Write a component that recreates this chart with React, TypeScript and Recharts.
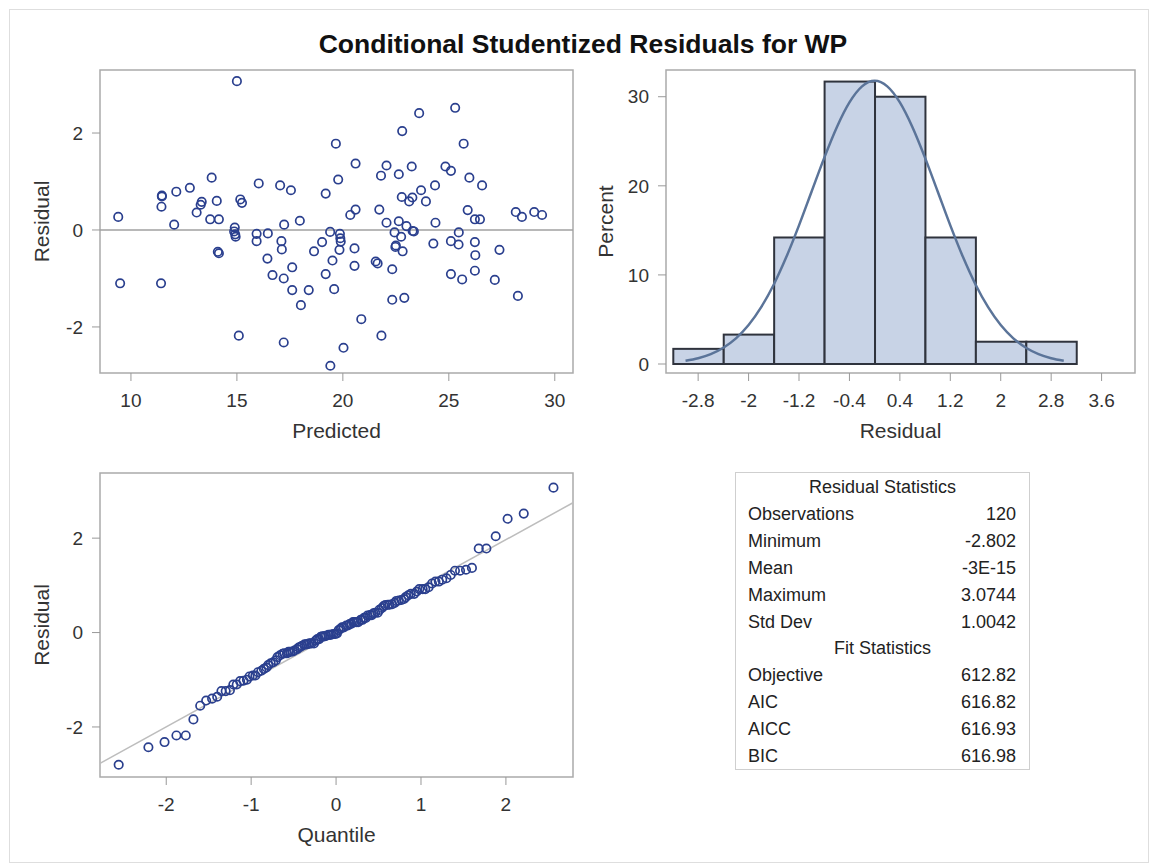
import React from "react";
import {
  ScatterChart,
  Scatter,
  ComposedChart,
  Bar,
  Line,
  XAxis,
  YAxis,
  ReferenceLine,
  ReferenceArea,
  Label,
} from "recharts";

const FONT = '"Liberation Sans", Arial, sans-serif';
const FRAME = "#ababab";
const MARKER = "#2a3f8e";

// residual vs predicted (one entry per observation)
const predicted = [
  15.0, 25.3, 23.6, 22.8, 19.67, 25.7, 20.6, 22.06, 23.25, 24.84,
  25.1, 13.81, 21.8, 22.64, 19.78, 25.97, 26.57, 16.03, 17.04, 17.55,
  12.78, 12.14, 11.46, 11.46, 19.19, 24.35, 23.69, 22.78, 23.28, 23.13,
  23.92, 13.34, 13.29, 14.05, 15.16, 15.24, 11.44, 13.1, 13.74, 14.15,
  12.04, 9.4, 17.23, 17.97, 20.6, 20.35, 21.72, 22.06, 22.64, 23.0,
  24.37, 25.89, 26.23, 26.47, 28.16, 28.45, 29.03, 29.4, 14.9, 14.87,
  14.94, 15.93, 16.46, 15.93, 17.1, 17.12, 19.4, 19.86, 19.9, 19.02,
  18.64, 19.84, 20.55, 19.51, 22.44, 22.75, 23.29, 23.35, 22.5, 22.82,
  24.27, 25.1, 25.47, 25.46, 26.23, 26.25, 27.39, 14.1, 14.15, 16.44,
  17.61, 16.68, 17.21, 17.61, 18.39, 18.02, 19.19, 19.59, 20.55, 21.55,
  21.64, 22.33, 22.33, 22.9, 25.1, 25.63, 26.23, 27.17, 28.26, 9.49,
  11.42, 20.87, 15.09, 17.21, 21.82, 20.03, 19.41, 14.92, 19.88, 22.48,
];

const residual = [
  3.07, 2.52, 2.41, 2.04, 1.78, 1.78, 1.37, 1.33, 1.31, 1.31,
  1.22, 1.08, 1.12, 1.15, 1.04, 1.08, 0.92, 0.96, 0.92, 0.82,
  0.87, 0.79, 0.71, 0.69, 0.75, 0.92, 0.82, 0.68, 0.67, 0.59,
  0.59, 0.58, 0.52, 0.6, 0.63, 0.56, 0.48, 0.36, 0.22, 0.22,
  0.11, 0.27, 0.11, 0.19, 0.42, 0.31, 0.42, 0.15, 0.18, 0.08,
  0.15, 0.41, 0.22, 0.22, 0.37, 0.27, 0.37, 0.31, 0.05, -0.03,
  -0.14, -0.08, -0.07, -0.23, -0.23, -0.4, -0.04, -0.08, -0.24, -0.25,
  -0.44, -0.41, -0.38, -0.63, -0.05, -0.14, -0.02, -0.03, -0.32, -0.44,
  -0.28, -0.23, -0.05, -0.3, -0.25, -0.52, -0.41, -0.45, -0.48, -0.59,
  -0.77, -0.93, -1.0, -1.24, -1.24, -1.55, -0.91, -1.22, -0.74, -0.65,
  -0.69, -0.81, -1.44, -1.4, -0.91, -1.02, -0.84, -1.03, -1.36, -1.1,
  -1.1, -1.84, -2.18, -2.32, -2.18, -2.43, -2.8, -0.09, -0.17, -0.35,
];

// normal quantiles
const quantiles = [
  -2.56, -2.21, -2.02, -1.88, -1.77, -1.68, -1.6, -1.53, -1.46, -1.4,
  -1.35, -1.3, -1.25, -1.21, -1.17, -1.13, -1.09, -1.05, -1.02, -0.98,
  -0.95, -0.92, -0.88, -0.85, -0.82, -0.8, -0.77, -0.74, -0.71, -0.69,
  -0.66, -0.63, -0.61, -0.58, -0.56, -0.54, -0.51, -0.49, -0.46, -0.44,
  -0.42, -0.4, -0.37, -0.35, -0.33, -0.31, -0.29, -0.26, -0.24, -0.22,
  -0.2, -0.18, -0.16, -0.14, -0.12, -0.09, -0.07, -0.05, -0.03, -0.01,
  0.01, 0.03, 0.05, 0.07, 0.09, 0.12, 0.14, 0.16, 0.18, 0.2,
  0.22, 0.24, 0.26, 0.29, 0.31, 0.33, 0.35, 0.37, 0.4, 0.42,
  0.44, 0.46, 0.49, 0.51, 0.54, 0.56, 0.58, 0.61, 0.63, 0.66,
  0.69, 0.71, 0.74, 0.77, 0.8, 0.82, 0.85, 0.88, 0.92, 0.95,
  0.98, 1.02, 1.05, 1.09, 1.13, 1.17, 1.21, 1.25, 1.3, 1.35,
  1.4, 1.46, 1.53, 1.6, 1.68, 1.77, 1.88, 2.02, 2.21, 2.56,
];
const qqLine = [
  { x: -2.78, y: -2.77 },
  { x: 2.79, y: 2.75 },
];

// histogram
const binMids = [-2.8, -2, -1.2, -0.4, 0.4, 1.2, 2, 2.8];
const binPercent = [1.7, 3.3, 14.2, 31.7, 30.0, 14.2, 2.5, 2.5];
const histTicks = [-2.8, -2, -1.2, -0.4, 0.4, 1.2, 2, 2.8, 3.6];
const curveX = [
  -3.0, -2.8, -2.6, -2.4, -2.2, -2.0, -1.8, -1.6, -1.4, -1.2, -1.0, -0.8, -0.6, -0.4, -0.2,
  0, 0.2, 0.4, 0.6, 0.8, 1.0, 1.2, 1.4, 1.6, 1.8, 2.0, 2.2, 2.4, 2.6, 2.8, 3.0,
];
const curvePercent = [
  0.37, 0.65, 1.11, 1.83, 2.88, 4.37, 6.38, 8.93, 12.03, 15.56, 19.36, 23.14, 26.58, 29.36, 31.16,
  31.78, 31.16, 29.36, 26.58, 23.14, 19.36, 15.56, 12.03, 8.93, 6.38, 4.37, 2.88, 1.83, 1.11, 0.65, 0.37,
];

const residualStats = [
  ["Observations", "120"],
  ["Minimum", "-2.802"],
  ["Mean", "-3E-15"],
  ["Maximum", "3.0744"],
  ["Std Dev", "1.0042"],
];
const fitStats = [
  ["Objective", "612.82"],
  ["AIC", "616.82"],
  ["AICC", "616.93"],
  ["BIC", "616.98"],
];

const scatterData = predicted.map((p, i) => ({ predicted: p, residual: residual[i] }));
const sortedResiduals = [...residual].sort((a, b) => a - b);
const qqData = quantiles.map((q, i) => ({ quantile: q, residual: sortedResiduals[i] }));
const histData = binMids.map((m, i) => ({ mid: m, percent: binPercent[i] }));
const curveData = curveX.map((x, i) => ({ mid: x, percent: curvePercent[i] }));

const HIST_X = [-3.31, 4.13];
const HIST_PLOT_W = 469;
const binPx = (0.8 * HIST_PLOT_W) / (HIST_X[1] - HIST_X[0]);

const tickStyle = { fontSize: 19, fill: "#333" };
const tickLine = { stroke: "#999" };

const Ring = (props: any) => (
  <circle cx={props.cx} cy={props.cy} r={4.2} fill="none" stroke={MARKER} strokeWidth={1.7} />
);

const HistBar = (props: any) => {
  const cx = props.x + props.width / 2;
  return (
    <rect
      x={cx - binPx / 2}
      y={props.y}
      width={binPx}
      height={props.height}
      fill="#c8d3e6"
      stroke="#2f333d"
      strokeWidth={2}
    />
  );
};

const yLabel = (text: string) => (
  <Label
    value={text}
    angle={-90}
    position="insideLeft"
    offset={42}
    fontSize={21}
    fill="#333"
    style={{ textAnchor: "middle" }}
  />
);

function ResidualScatter() {
  return (
    <ScatterChart width={590} height={460} margin={{ top: 70, right: 17, bottom: 0, left: 0 }}>
      <XAxis
        type="number"
        dataKey="predicted"
        domain={[8.54, 30.86]}
        ticks={[10, 15, 20, 25, 30]}
        allowDataOverflow
        axisLine={false}
        tickLine={tickLine}
        tickSize={8}
        tickMargin={13}
        tick={tickStyle}
        height={87}
      >
        <Label value="Predicted" position="insideBottom" offset={22} fontSize={21} fill="#333" />
      </XAxis>
      <YAxis
        type="number"
        dataKey="residual"
        domain={[-2.95, 3.3]}
        ticks={[-2, 0, 2]}
        allowDataOverflow
        axisLine={false}
        tickLine={tickLine}
        tickSize={8}
        tickMargin={9}
        tick={tickStyle}
        width={100}
      >
        {yLabel("Residual")}
      </YAxis>
      <ReferenceArea x1={8.54} x2={30.86} y1={-2.95} y2={3.3} fill="none" stroke={FRAME} strokeWidth={1.5} />
      <ReferenceLine y={0} stroke="#a0a0a0" strokeWidth={1.5} />
      <Scatter data={scatterData} shape={Ring} isAnimationActive={false} />
    </ScatterChart>
  );
}

function ResidualHistogram() {
  return (
    <ComposedChart width={570} height={460} data={histData} margin={{ top: 70, right: 15, bottom: 0, left: 0 }}>
      <XAxis
        type="number"
        dataKey="mid"
        domain={HIST_X}
        ticks={histTicks}
        allowDataOverflow
        axisLine={false}
        tickLine={tickLine}
        tickSize={8}
        tickMargin={13}
        tick={tickStyle}
        height={87}
      >
        <Label value="Residual" position="insideBottom" offset={22} fontSize={21} fill="#333" />
      </XAxis>
      <YAxis
        type="number"
        domain={[-1.01, 33]}
        ticks={[0, 10, 20, 30]}
        allowDataOverflow
        axisLine={false}
        tickLine={tickLine}
        tickSize={8}
        tickMargin={9}
        tick={tickStyle}
        width={86}
      >
        <Label
          value="Percent"
          angle={-90}
          position="insideLeft"
          offset={26}
          fontSize={21}
          fill="#333"
          style={{ textAnchor: "middle" }}
        />
      </YAxis>
      <ReferenceArea x1={HIST_X[0]} x2={HIST_X[1]} y1={-1.01} y2={33} fill="none" stroke={FRAME} strokeWidth={1.5} />
      <Bar dataKey="percent" barSize={50} shape={HistBar} isAnimationActive={false} />
      <Line
        data={curveData}
        dataKey="percent"
        type="monotone"
        stroke="#5b7499"
        strokeWidth={2.5}
        dot={false}
        isAnimationActive={false}
      />
    </ComposedChart>
  );
}

function QQPlot() {
  return (
    <ScatterChart width={590} height={466} margin={{ top: 73, right: 17, bottom: 0, left: 0 }}>
      <XAxis
        type="number"
        dataKey="quantile"
        domain={[-2.78, 2.79]}
        ticks={[-2, -1, 0, 1, 2]}
        allowDataOverflow
        axisLine={false}
        tickLine={tickLine}
        tickSize={8}
        tickMargin={13}
        tick={tickStyle}
        height={89}
      >
        <Label value="Quantile" position="insideBottom" offset={24} fontSize={21} fill="#333" />
      </XAxis>
      <YAxis
        type="number"
        dataKey="residual"
        domain={[-3.06, 3.38]}
        ticks={[-2, 0, 2]}
        allowDataOverflow
        axisLine={false}
        tickLine={tickLine}
        tickSize={8}
        tickMargin={9}
        tick={tickStyle}
        width={100}
      >
        {yLabel("Residual")}
      </YAxis>
      <ReferenceArea x1={-2.78} x2={2.79} y1={-3.06} y2={3.38} fill="none" stroke={FRAME} strokeWidth={1.5} />
      <ReferenceLine segment={qqLine} stroke="#bdbdbd" strokeWidth={1.5} ifOverflow="visible" />
      <Scatter data={qqData} shape={Ring} isAnimationActive={false} />
    </ScatterChart>
  );
}

function StatsTable() {
  const row = (label: string, value: string) => (
    <div
      key={label}
      style={{ display: "flex", justifyContent: "space-between", height: 26.9, lineHeight: "26.9px", padding: "0 13px 0 12px" }}
    >
      <span>{label}</span>
      <span>{value}</span>
    </div>
  );
  const head = (text: string, h: number) => (
    <div style={{ textAlign: "center", height: h, lineHeight: `${h}px` }}>{text}</div>
  );
  return (
    <div
      style={{
        position: "absolute",
        left: 735,
        top: 472,
        width: 295,
        height: 298,
        boxSizing: "border-box",
        border: "1px solid #cfcfcf",
        fontSize: 18,
        color: "#222",
      }}
    >
      {head("Residual Statistics", 28)}
      {residualStats.map(([l, v]) => row(l, v))}
      {head("Fit Statistics", 26.9)}
      {fitStats.map(([l, v]) => row(l, v))}
    </div>
  );
}

export default function App() {
  return (
    <div
      style={{
        position: "absolute",
        left: 0,
        top: 0,
        width: 1149,
        height: 866,
        background: "#fff",
        fontFamily: FONT,
        overflow: "hidden",
      }}
    >
      <div
        style={{
          position: "absolute",
          left: 9,
          top: 9,
          width: 1140,
          height: 854,
          boxSizing: "border-box",
          border: "1px solid #dedede",
        }}
      />
      <div
        style={{
          position: "absolute",
          left: 283,
          top: 31,
          width: 600,
          textAlign: "center",
          fontSize: 26.5,
          lineHeight: "26px",
          fontWeight: "bold",
          color: "#111",
        }}
      >
        Conditional Studentized Residuals for WP
      </div>
      <div style={{ position: "absolute", left: 0, top: 0 }}>
        <ResidualScatter />
      </div>
      <div style={{ position: "absolute", left: 580, top: 0 }}>
        <ResidualHistogram />
      </div>
      <div style={{ position: "absolute", left: 0, top: 400 }}>
        <QQPlot />
      </div>
      <StatsTable />
    </div>
  );
}
